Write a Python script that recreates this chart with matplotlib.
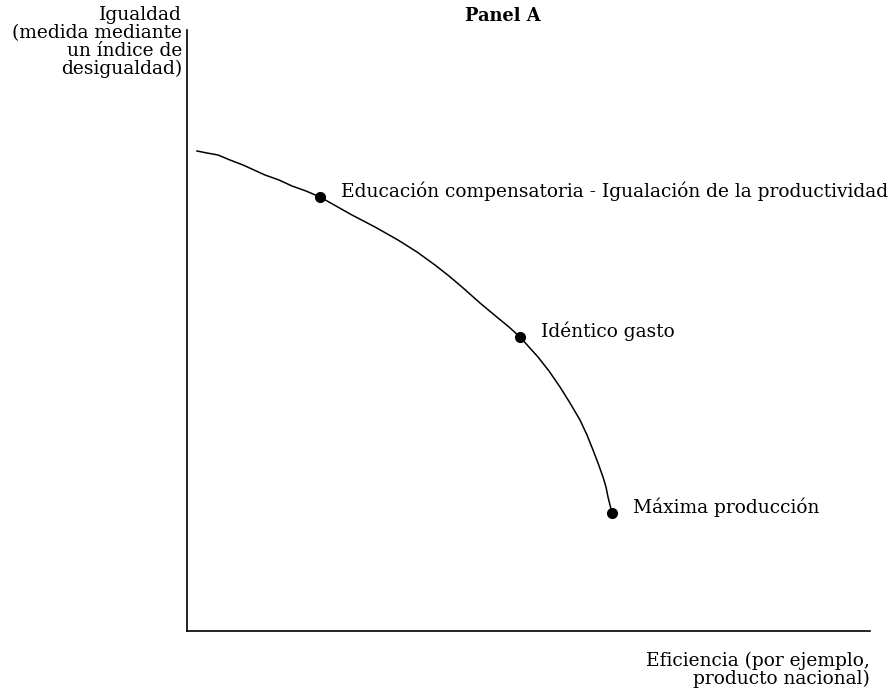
import matplotlib.pyplot as plt
import numpy as np

plt.rcParams['font.family'] = ['DejaVu Serif']

# frontier curve (efficiency, equality), arbitrary units
curve_x = np.array([10, 20, 31, 43, 56, 67, 78, 92, 105, 119, 133, 149, 165, 188, 211,
                    230, 248, 262, 275, 293, 311, 322, 333, 342, 351, 362, 373, 383,
                    393, 400, 406, 411, 416, 419, 421, 423, 425])
curve_y = np.array([480, 478, 476, 471, 466, 461, 456, 451, 445, 440, 434, 425, 416, 404, 391,
                    379, 366, 355, 344, 328, 313, 304, 294, 284, 274, 260, 244, 228,
                    211, 196, 181, 168, 154, 144, 134, 126, 118])

point_x = [133, 333, 425]
point_y = [434, 294, 118]
point_labels = ["Educación compensatoria - Igualación de la productividad",
                "Idéntico gasto",
                "Máxima producción"]

fig = plt.figure(figsize=(8.95, 6.90), dpi=100)
ax = fig.add_axes([187/895, 59/690, 683/895, 601/690])
ax.set_xlim(0, 683)
ax.set_ylim(0, 601)

ax.plot(curve_x, curve_y, color='black', lw=1.1, solid_joinstyle='round')
ax.plot(point_x, point_y, 'o', color='black', markersize=7)
for x, y, s in zip(point_x, point_y, point_labels):
    ax.text(x + 21, y + 6, s, fontsize=13.4, va='center', ha='left')

for side in ['top', 'right']:
    ax.spines[side].set_visible(False)
ax.spines['left'].set_linewidth(1.2)
ax.spines['bottom'].set_linewidth(1.2)
ax.set_xticks([])
ax.set_yticks([])

fig.text(182/895, 1 - 6/690, "Igualdad\n(medida mediante\nun índice de\ndesigualdad)",
         ha='right', va='top', fontsize=13.4, linespacing=0.99)
fig.text(870/895, 1 - 652/690, "Eficiencia (por ejemplo,\nproducto nacional)",
         ha='right', va='top', fontsize=13.4, linespacing=0.99)
fig.text(503/895, 1 - 16/690, "Panel A", ha='center', va='center',
         fontsize=12.8, fontweight='bold')

fig.savefig('out.png', dpi=100)
